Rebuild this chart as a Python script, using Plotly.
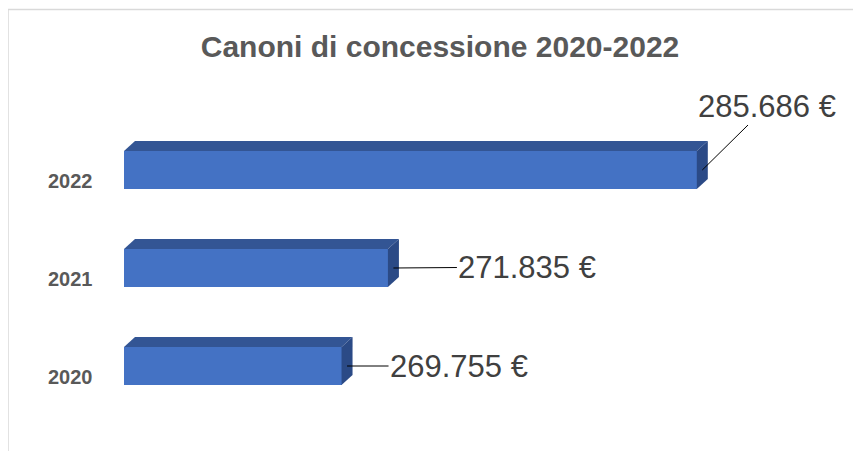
import plotly.graph_objects as go

# data
years = ["2020", "2021", "2022"]
canoni = [269755, 271835, 285686]
label_text = ["269.755 €", "271.835 €", "285.686 €"]
title_text = "Canoni di concessione 2020-2022"

# layout constants (pixels, page has an 8px body margin)
OFF = 8
W, H = 861, 451
plot_left, plot_right = 124, 793
plot_top, plot_bottom = 121, 415
L = plot_left - OFF
T = plot_top - OFF
R = W - plot_right + OFF
B = H - plot_bottom + OFF
x_min, x_max = 260000, 290000
plot_w = plot_right - plot_left
plot_h = plot_bottom - plot_top
px_per_unit = plot_w / (x_max - x_min)
cat_px = plot_h / len(years)

bar_w = 0.39
depth_dx = 11 / px_per_unit   # 3d depth, data units
depth_dy = 10 / cat_px

FRONT = "#4472C4"
TOP = "#335594"
SIDE = "#2B4A86"
TEXT = "#595959"
FONT = "Liberation Sans, Arial, sans-serif"

ys = list(range(len(years)))

fig = go.Figure()

# front faces
fig.add_trace(go.Bar(
    x=[v - x_min for v in canoni], base=x_min, y=ys, orientation="h",
    width=bar_w, marker=dict(color=FRONT, line=dict(width=0)),
    hoverinfo="skip", showlegend=False,
))

# top and side faces of the 3d bars
for yi, v in zip(ys, canoni):
    top = yi + bar_w / 2
    bot = yi - bar_w / 2
    fig.add_trace(go.Scatter(
        x=[x_min, v, v + depth_dx, x_min + depth_dx, x_min],
        y=[top, top, top + depth_dy, top + depth_dy, top],
        fill="toself", fillcolor=TOP, mode="lines", line=dict(width=0),
        hoverinfo="skip", showlegend=False,
    ))
    fig.add_trace(go.Scatter(
        x=[v, v + depth_dx, v + depth_dx, v, v],
        y=[bot, bot + depth_dy, top + depth_dy, top, bot],
        fill="toself", fillcolor=SIDE, mode="lines", line=dict(width=0),
        hoverinfo="skip", showlegend=False,
    ))

# data labels with leader lines
offsets = [(112, 0), (134, -1), (65, -64)]
for yi, v, txt, (ax, ay) in zip(ys, canoni, label_text, offsets):
    fig.add_annotation(
        x=v + depth_dx / 2, y=yi, text=txt, showarrow=True, arrowhead=0,
        arrowwidth=1, arrowcolor="#000000", ax=ax, ay=ay, standoff=0,
        font=dict(family=FONT, size=31, color="#404040"),
    )

# category labels
for yi, yr in zip(ys, years):
    fig.add_annotation(
        x=(70 - plot_left) / plot_w, xref="paper", y=yi, yref="y",
        text="<b>" + yr + "</b>",
        showarrow=False, xanchor="center", yshift=-11,
        font=dict(family=FONT, size=20, color=TEXT),
    )

# chart border
fig.add_shape(
    type="rect", xref="paper", yref="paper",
    x0=(8 - plot_left) / plot_w, x1=(W + 40 - plot_left) / plot_w,
    y0=-(H + 40 - plot_bottom) / plot_h, y1=(plot_bottom - 9.5) / plot_h,
    line=dict(color="#D9D9D9", width=1.5), fillcolor="rgba(0,0,0,0)", layer="below",
)

fig.update_layout(
    width=W, height=H,
    margin=dict(l=L, r=R, t=T, b=B),
    paper_bgcolor="white", plot_bgcolor="white",
    title=dict(
        text="<b>" + title_text + "</b>", x=(440 - OFF) / W, xanchor="center",
        y=1 - (46 - OFF) / H, yanchor="middle",
        font=dict(family=FONT, size=30, color=TEXT),
    ),
    xaxis=dict(range=[x_min, x_max], visible=False, fixedrange=True),
    yaxis=dict(range=[-0.5, len(years) - 0.5], visible=False, fixedrange=True),
    bargap=0,
)

fig.write_html("out.html")
